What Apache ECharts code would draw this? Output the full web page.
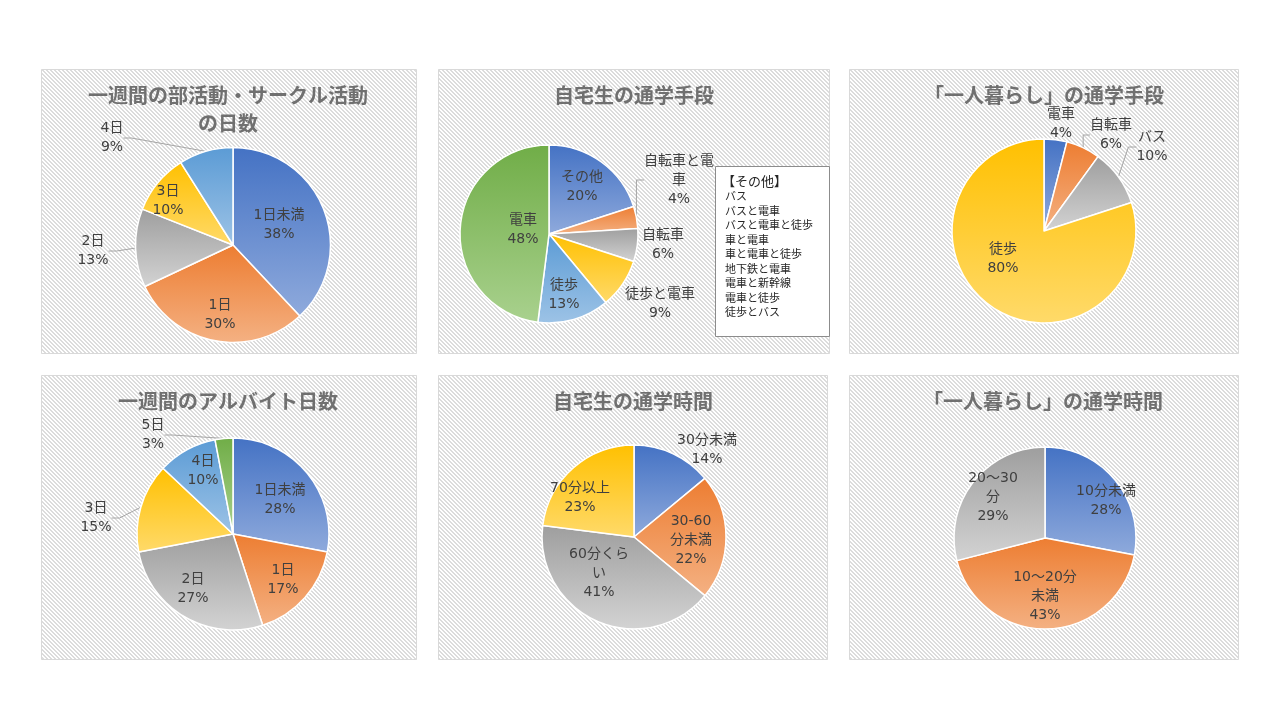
<!DOCTYPE html>
<html><head><meta charset="utf-8">
<script src="https://cdn.jsdelivr.net/npm/echarts@6/dist/echarts.min.js"></script>
<style>html,body{margin:0;padding:0;background:#fff;}#c{width:1280px;height:720px;}</style>
</head><body><div id="c"></div>
<script>
// ---- data ----
const clubCats = ['1日未満','1日','2日','3日','4日'];
const clubVals = [38,30,13,10,9];
const homeModeCats = ['その他','自転車と電車','自転車','徒歩と電車','徒歩','電車'];
const homeModeVals = [20,4,6,9,13,48];
const aloneModeCats = ['電車','自転車','バス','徒歩'];
const aloneModeVals = [4,6,10,80];
const jobCats = ['1日未満','1日','2日','3日','4日','5日'];
const jobVals = [28,17,27,15,10,3];
const homeTimeCats = ['30分未満','30-60分未満','60分くらい','70分以上'];
const homeTimeVals = [14,22,41,23];
const aloneTimeCats = ['10分未満','10～20分未満','20～30分'];
const aloneTimeVals = [28,43,29];
const otherHeader = '【その他】';
const otherItems = ['バス','バスと電車','バスと電車と徒歩','車と電車','車と電車と徒歩','地下鉄と電車','電車と新幹線','電車と徒歩','徒歩とバス'];
const titles = ['一週間の部活動・サークル活動\nの日数','自宅生の通学手段','「一人暮らし」の通学手段','一週間のアルバイト日数','自宅生の通学時間','「一人暮らし」の通学時間'];

// ---- styles / layout ----
const FONT = '"Noto Sans CJK JP","Noto Sans",sans-serif';
const LFONT = '"DejaVu Sans","Noto Sans CJK JP",sans-serif';
const pal = {
  blue:['#4472C4','#8FAADC'], orange:['#ED7D31','#F4B183'], gray:['#9E9E9E','#D3D3D3'],
  yellow:['#FFC000','#FFDA6A'], lblue:['#5B9BD5','#9DC3E6'], green:['#70AD47','#A9D18E']
};
const order6 = ['blue','orange','gray','yellow','lblue','green'];
const wraps = {'自転車と電車':'自転車と電\n車','30-60分未満':'30-60\n分未満','60分くらい':'60分くら\nい','10～20分未満':'10～20分\n未満','20～30分':'20～30\n分'};
// label anchor positions (centre of each label block), per series / slice
const labelPos = [
  [[279,225],[220,315],[93,251],[168,201],[112,138]],
  [[582,187],[679,180],[663,245],[660,304],[564,295],[523,230]],
  [[1061,124],[1111,135],[1152,147],[1003,259]],
  [[280,500],[283,580],[193,589],[96,518],[203,471],[153,435]],
  [[707,450],[691,540],[599,573],[580,498]],
  [[1106,501],[1045,596],[993,497]]
];
const leaderLines = [['2日','4日'],['自転車と電車'],['自転車','バス'],['3日','5日'],[],[]];
function grad(k){ return new echarts.graphic.LinearGradient(0,0,0,1,[{offset:0,color:pal[k][0]},{offset:1,color:pal[k][1]}]); }

// hatch pattern
const tile = document.createElement('canvas'); tile.width = 4; tile.height = 4;
(function(){ const g = tile.getContext('2d'); g.fillStyle='#ffffff'; g.fillRect(0,0,4,4); g.fillStyle='#dcdcdc';
  for (let y=0;y<4;y++) for (let x=0;x<4;x++){ if ((((x-y)%4)+4)%4 < 2) g.fillRect(x,y,1,1); } })();

const panels = [[41,69,375,284],[438,69,391,284],[849,69,389,284],[41,375,375,284],[438,375,389,284],[849,375,389,284]];
const titlePos = [[228,95],[634,95],[1044,95],[228,401],[633,401],[1043,401]];

function pieSeries(si, cats, vals, center, r, colorKeys){
  return {
    type:'pie', center:center, radius:r, startAngle:90, clockwise:true, silent:true, animation:false,
    avoidLabelOverlap:false, percentPrecision:0,
    itemStyle:{borderColor:'#fff', borderWidth:1.5},
    label:{fontFamily:LFONT, fontSize:14, color:'#404040', lineHeight:19, align:'center',
      formatter: p => (wraps[p.name]||p.name) + '\n' + p.value + '%'},
    labelLine:{show:true, length:8, length2:8, lineStyle:{color:'#a6a6a6', width:1}},
    labelLayout: p => { const q = labelPos[si][p.dataIndex]; return {x:q[0], y:q[1], align:'center', verticalAlign:'middle'}; },
    data: cats.map((n,i)=>({name:n, value:vals[i], itemStyle:{color:grad(colorKeys[i])},
      label:{position: leaderLines[si].includes(n)?'outside':'inside'},
      labelLine:{show: leaderLines[si].includes(n)}}))
  };
}

const graphics = [];
panels.forEach(p=>graphics.push({type:'rect', z:-10, shape:{x:p[0]+0.5,y:p[1]+0.5,width:p[2],height:p[3]},
  style:{fill:{image:tile, repeat:'repeat'}, stroke:'#d9d9d9', lineWidth:1}}));
titles.forEach((t,i)=>graphics.push({type:'text', z:5, x:titlePos[i][0], y:titlePos[i][1] + (i===0?14:0),
  style:{text:t, fill:'#707070', font:'bold 20px '+FONT, textAlign:'center', textVerticalAlign:'middle', lineHeight:28}}));
graphics.push({type:'rect', z:50, shape:{x:715.5,y:166.5,width:114,height:170}, style:{fill:'#fff', stroke:'#8c8c8c', lineWidth:1}});
graphics.push({type:'text', z:51, x:722, y:181, style:{text:otherHeader, fill:'#262626', font:'13px '+FONT, textVerticalAlign:'middle'}});
graphics.push({type:'text', z:51, x:725, y:189, style:{text:otherItems.join('\n'), fill:'#262626', font:'11px '+FONT, lineHeight:14.5, textVerticalAlign:'top'}});

const chart = echarts.init(document.getElementById('c'), null, {renderer:'canvas'});
chart.setOption({
  backgroundColor:'#fff',
  animation:false,
  graphic: graphics,
  series:[
    pieSeries(0, clubCats, clubVals, [233,245], 97.5, order6),
    pieSeries(1, homeModeCats, homeModeVals, [549,234], 89, order6),
    pieSeries(2, aloneModeCats, aloneModeVals, [1044,231], 92, ['blue','orange','gray','yellow']),
    pieSeries(3, jobCats, jobVals, [233,534], 96, order6),
    pieSeries(4, homeTimeCats, homeTimeVals, [634,537], 92, ['blue','orange','gray','yellow']),
    pieSeries(5, aloneTimeCats, aloneTimeVals, [1045,538], 91, ['blue','orange','gray'])
  ]
});
</script></body></html>
